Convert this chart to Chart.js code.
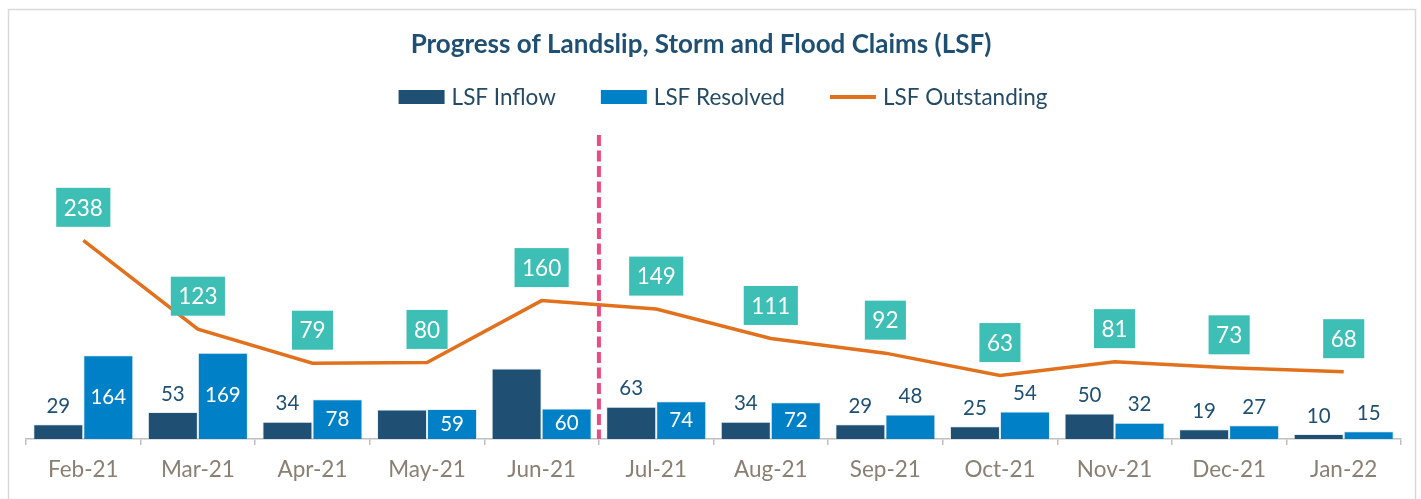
<!doctype html>
<html lang="en">
<head>
<meta charset="UTF-8" />
<title>Progress of Landslip, Storm and Flood Claims (LSF)</title>
<script src="https://cdn.jsdelivr.net/npm/chart.js"></script>
<style>
    html, body { margin: 0; padding: 0; background: #fff; }
    #chart-container { position: relative; width: 1421px; height: 499px; }
</style>
</head>
<body>
<div id="chart-container"><canvas id="lsfChart"></canvas></div>
<script>
const title = "Progress of Landslip, Storm and Flood Claims (LSF)";
const months = ["Feb-21", "Mar-21", "Apr-21", "May-21", "Jun-21", "Jul-21",
                "Aug-21", "Sep-21", "Oct-21", "Nov-21", "Dec-21", "Jan-22"];
const inflow = [29, 53, 34, 58, 138, 63, 34, 29, 25, 50, 19, 10];
const resolved = [164, 169, 78, 59, 60, 74, 72, 48, 54, 32, 27, 15];
const outstanding = [238, 123, 79, 80, 160, 149, 111, 92, 63, 81, 73, 68];
// inflow values with no label on the original
const unlabelledInflow = ["May-21", "Jun-21"];
// dashed marker sits after this month
const splitAfter = "Jun-21";

const NAVY = "#1F5073";
const BLUE = "#0080C6";
const ORANGE = "#E2711D";
const TEAL = "#3DBFB5";
const FONT = "Lato, 'Open Sans', sans-serif";

const framePlugin = {
    id: "frame",
    beforeDraw(chart) {
        const ctx = chart.ctx;
        ctx.save();
        ctx.fillStyle = "#fff";
        ctx.fillRect(0, 0, chart.width, chart.height);
        ctx.strokeStyle = "#D9D9D9";
        ctx.lineWidth = 1.5;
        ctx.strokeRect(8.5, 9.5, chart.width - 14, chart.height + 10);
        ctx.restore();
    }
};

// title + legend drawn by hand so the spacing matches the original
const headerPlugin = {
    id: "header",
    afterDraw(chart) {
        const ctx = chart.ctx;
        ctx.save();
        ctx.textBaseline = "middle";
        ctx.textAlign = "center";
        ctx.fillStyle = NAVY;
        ctx.font = "bold 26px " + FONT;
        ctx.fillText(title, 701, 45);

        ctx.font = "22.5px " + FONT;
        ctx.textAlign = "left";
        const sets = chart.data.datasets;
        const widths = sets.map((d) => 46 + 7 + ctx.measureText(d.label).width);
        const total = widths.reduce((a, b) => a + b, 0) + 45 * (sets.length - 1);
        let x = 723 - total / 2;
        const y = 97;
        sets.forEach((d, i) => {
            if (d.type === "line") {
                ctx.strokeStyle = d.borderColor;
                ctx.lineWidth = 4;
                ctx.beginPath();
                ctx.moveTo(x, y);
                ctx.lineTo(x + 46, y);
                ctx.stroke();
            } else {
                ctx.fillStyle = d.backgroundColor;
                ctx.fillRect(x, y - 7, 46, 14);
            }
            ctx.fillStyle = "#244A66";
            ctx.fillText(d.label, x + 53, y + 1);
            x += widths[i] + 45;
        });
        ctx.restore();
    }
};

const labelPlugin = {
    id: "labels",
    afterDatasetsDraw(chart) {
        const ctx = chart.ctx;
        const xs = chart.scales.x;
        const area = chart.chartArea;
        ctx.save();

        // dashed divider between two months
        const k = months.indexOf(splitAfter);
        const dx = (xs.getPixelForValue(k) + xs.getPixelForValue(k + 1)) / 2;
        ctx.strokeStyle = "#EC4A82";
        ctx.lineWidth = 4;
        ctx.setLineDash([11, 4.5]);
        ctx.beginPath();
        ctx.moveTo(dx, area.top + 16);
        ctx.lineTo(dx, area.bottom);
        ctx.stroke();
        ctx.setLineDash([]);

        ctx.textAlign = "center";
        ctx.textBaseline = "middle";
        ctx.font = "20.5px " + FONT;

        // bar values
        [0, 1].forEach((di) => {
            const meta = chart.getDatasetMeta(di);
            const vals = chart.data.datasets[di].data;
            meta.data.forEach((bar, i) => {
                if (di === 0 && unlabelledInflow.includes(months[i])) return;
                const h = bar.base - bar.y;
                if (di === 1 && h >= 29) {
                    ctx.fillStyle = "#fff";
                    ctx.fillText(vals[i], bar.x, bar.y + h / 2);
                } else {
                    ctx.fillStyle = NAVY;
                    ctx.fillText(vals[i], bar.x, bar.y - 18);
                }
            });
        });

        // outstanding boxes
        ctx.font = "22.5px " + FONT;
        const lm = chart.getDatasetMeta(2);
        lm.data.forEach((pt, i) => {
            const txt = String(outstanding[i]);
            const w = ctx.measureText(txt).width + 15;
            const cy = pt.y - 33;
            ctx.fillStyle = TEAL;
            ctx.fillRect(pt.x - w / 2, cy - 19.5, w, 39);
            ctx.fillStyle = "#fff";
            ctx.fillText(txt, pt.x, cy + 1);
        });
        ctx.restore();
    }
};

const ctx = document.getElementById("lsfChart").getContext("2d");
new Chart(ctx, {
    type: "bar",
    data: {
        labels: months,
        datasets: [
            {
                label: "LSF Inflow",
                data: inflow,
                backgroundColor: NAVY,
                borderColor: "rgba(220,230,240,0.7)",
                borderWidth: 1,
                yAxisID: "y",
                barPercentage: 1,
                categoryPercentage: 0.873
            },
            {
                label: "LSF Resolved",
                data: resolved,
                backgroundColor: BLUE,
                borderColor: "rgba(220,230,240,0.7)",
                borderWidth: 1,
                yAxisID: "y",
                barPercentage: 1,
                categoryPercentage: 0.873
            },
            {
                type: "line",
                label: "LSF Outstanding",
                data: outstanding,
                borderColor: ORANGE,
                backgroundColor: ORANGE,
                borderWidth: 3.5,
                pointRadius: 0,
                tension: 0,
                yAxisID: "y2"
            }
        ]
    },
    options: {
        responsive: true,
        maintainAspectRatio: false,
        animation: false,
        layout: { padding: { top: 119, left: 26, right: 20, bottom: 5 } },
        plugins: {
            title: { display: false },
            legend: { display: false },
            tooltip: { enabled: false }
        },
        scales: {
            x: {
                offset: true,
                grid: {
                    display: true,
                    drawOnChartArea: false,
                    drawTicks: true,
                    tickLength: 6,
                    color: "#BFBFBF",
                    lineWidth: 1.5
                },
                border: { display: true, color: "#BFBFBF", width: 1.5 },
                ticks: {
                    color: "#8A7F72",
                    font: { family: FONT, size: 22.5 },
                    padding: 11
                }
            },
            y: { display: false, min: 0, max: 627 },
            y2: { display: false, min: -19.1, max: 395 }
        }
    },
    plugins: [framePlugin, headerPlugin, labelPlugin]
});
</script>
</body>
</html>
